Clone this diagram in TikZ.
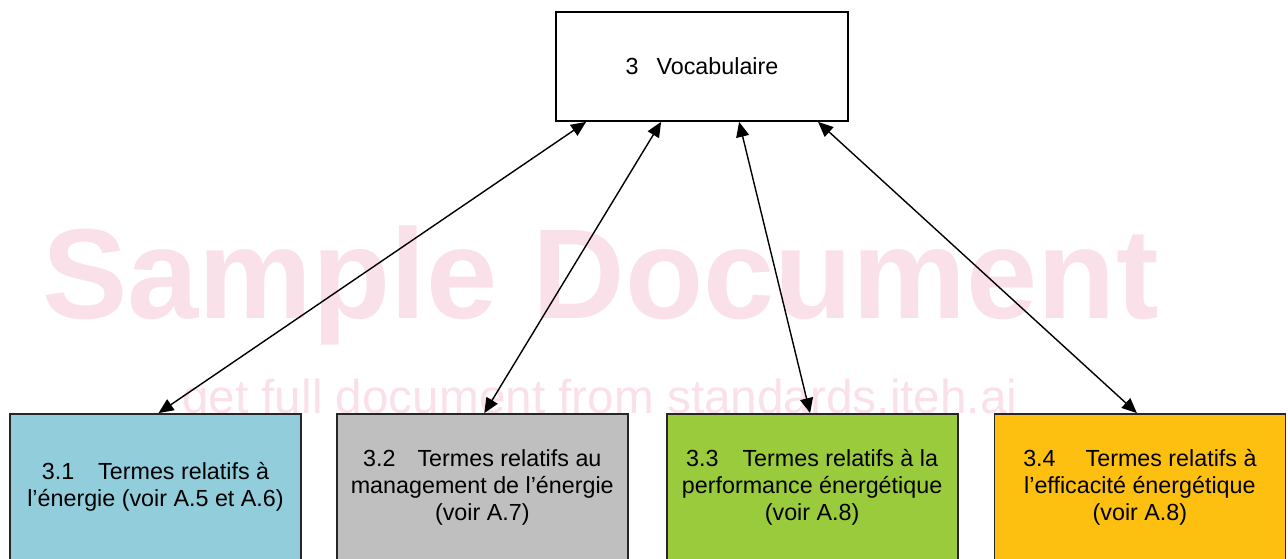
\documentclass[tikz,border=0pt]{standalone}
\usepackage{fontspec}
\setmainfont{Liberation Sans}
\usetikzlibrary{positioning,arrows.meta}
\definecolor{energycolor}{RGB}{146,205,220}
\definecolor{mgmtcolor}{RGB}{191,191,191}
\definecolor{perfcolor}{RGB}{154,203,60}
\definecolor{efficolor}{RGB}{254,192,16}
\definecolor{markcolor}{RGB}{250,224,232}

\begin{document}
\begin{tikzpicture}[
    x=1pt, y=-1pt,
    rootbox/.style={rectangle, draw, line width=1.8pt, fill=white,
        minimum width=292pt, minimum height=109pt, inner sep=0pt,
        font=\fontsize{23.3}{27}\selectfont},
    termbox/.style={rectangle, draw=black!85, line width=1.8pt,
        minimum width=291pt, minimum height=146pt, inner sep=0pt,
        align=center, font=\fontsize{23.3}{27}\selectfont},
    watermark/.style={anchor=base west, inner sep=0pt, text=markcolor},
    link/.style={{Triangle[length=15pt,width=13pt]}-{Triangle[length=15pt,width=13pt]},
        line width=1.4pt}
    ]

\path[use as bounding box] (0,0) rectangle (1288,558);
\clip (0,0) rectangle (1288,558);

% watermark
\node[watermark, font=\fontsize{128}{128}\selectfont\bfseries] (mark) at (42,318) {Sample Document};
\node[watermark, font=\fontsize{47.7}{48}\selectfont] (marksub) at (182,413) {get full document from standards.iteh.ai};

\node[rootbox] (vocab) at (702,66.5) {3\hspace{18pt}Vocabulaire};

\node[termbox, fill=energycolor] (energy) at (155.5,487) {
	3.1\hspace{24pt}Termes relatifs à\\
	l’énergie (voir A.5 et A.6)
};

\node[termbox, fill=mgmtcolor] (mgmt) [right=34pt of energy] {
	3.2\hspace{22pt}Termes relatifs au\\
	management de l’énergie\\
	(voir A.7)
};

\node[termbox, fill=perfcolor] (perf) [right=37pt of mgmt] {
	3.3\hspace{24pt}Termes relatifs à la\\
	performance énergétique\\
	(voir A.8)
};

\node[termbox, fill=efficolor] (effic) [right=35pt of perf] {
	3.4\hspace{30pt}Termes relatifs à\\
	l’efficacité énergétique\\
	(voir A.8)
};

\draw[link] ([xshift=31pt]vocab.south west) -- ([xshift=3pt]energy.north);
\draw[link] ([xshift=106pt]vocab.south west) -- ([xshift=2pt]mgmt.north);
\draw[link] ([xshift=184pt]vocab.south west) -- ([xshift=-2pt]perf.north);
\draw[link] ([xshift=263pt]vocab.south west) -- ([xshift=-3pt]effic.north);

\end{tikzpicture}
\end{document}
